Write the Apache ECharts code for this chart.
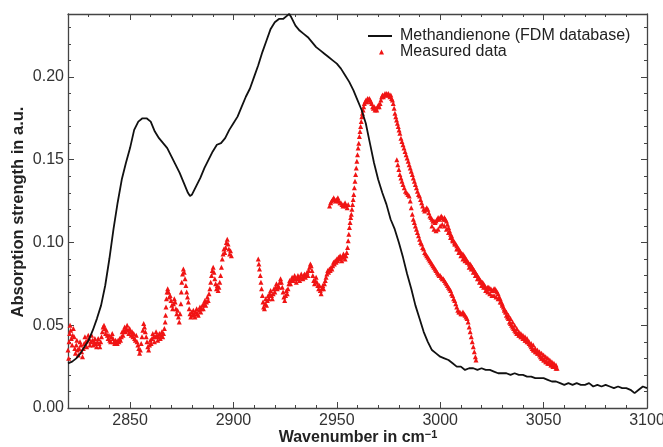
<!DOCTYPE html>
<html><head><meta charset="utf-8">
<script src="https://cdn.jsdelivr.net/npm/echarts@6/dist/echarts.min.js"></script>
<style>html,body{margin:0;padding:0;background:#fff}#c{width:663px;height:447px}</style>
</head><body><div id="c"></div>
<script>
// ---- tick values ----
const xMajorTicks = [2850, 2900, 2950, 3000, 3050, 3100];
const xMinorTicks = [2830, 2840, 2860, 2870, 2880, 2890, 2910, 2920, 2930, 2940, 2960, 2970, 2980, 2990, 3010, 3020, 3030, 3040, 3060, 3070, 3080, 3090];
const yMajorTicks = [0, 0.05, 0.10, 0.15, 0.20];
const yMinorTicks = [0.01, 0.02, 0.03, 0.04, 0.06, 0.07, 0.08, 0.09, 0.11, 0.12, 0.13, 0.14, 0.16, 0.17, 0.18, 0.19, 0.21, 0.22, 0.23];

// ---- Methandienone (FDM database) ----
const fdmX = [2820,2822,2824,2826,2828,2830,2832,2834,2836,2838,2840,2842,2844,2846,2848,2850,2852,2854,2856,2858,2860,2862,2864,2866,2868,2870,2872,2874,2876,2878,2879,2880,2882,2884,2886,2888,2890,2892,2894,2896,2898,2900,2902,2904,2906,2908,2910,2912,2914,2916,2918,2920,2922,2924,2926,2927,2928,2930,2932,2934,2936,2938,2940,2942,2944,2946,2948,2950,2952,2954,2956,2958,2960,2962,2964,2966,2968,2970,2972,2974,2976,2978,2980,2982,2984,2986,2988,2990,2992,2994,2996,2998,3000,3002,3004,3006,3008,3010,3012,3014,3016,3018,3020,3022,3024,3026,3028,3030,3032,3034,3036,3038,3040,3042,3044,3046,3048,3050,3052,3054,3056,3058,3060,3062,3064,3066,3068,3070,3072,3074,3076,3078,3080,3082,3084,3086,3088,3090,3092,3094,3096,3098,3100];
const fdmY = [0.027,0.028,0.030,0.033,0.037,0.041,0.047,0.054,0.062,0.074,0.090,0.108,0.124,0.138,0.148,0.157,0.168,0.173,0.175,0.175,0.173,0.167,0.163,0.160,0.157,0.152,0.147,0.142,0.136,0.130,0.128,0.129,0.134,0.139,0.145,0.150,0.155,0.159,0.160,0.163,0.168,0.172,0.176,0.182,0.188,0.193,0.200,0.207,0.215,0.222,0.229,0.233,0.235,0.235,0.237,0.238,0.236,0.231,0.228,0.226,0.224,0.221,0.218,0.216,0.214,0.212,0.210,0.208,0.205,0.201,0.197,0.192,0.186,0.180,0.172,0.160,0.148,0.138,0.130,0.123,0.114,0.108,0.100,0.091,0.081,0.072,0.062,0.054,0.046,0.040,0.035,0.033,0.031,0.030,0.029,0.027,0.025,0.025,0.023,0.024,0.024,0.023,0.024,0.023,0.023,0.022,0.021,0.021,0.021,0.020,0.021,0.020,0.020,0.019,0.019,0.018,0.018,0.018,0.017,0.016,0.016,0.015,0.014,0.015,0.014,0.015,0.014,0.014,0.015,0.013,0.014,0.013,0.014,0.013,0.012,0.013,0.012,0.012,0.011,0.009,0.011,0.013,0.012];

// ---- Measured data: [wavenumber, absorption] ----
const measured = [
[2820.0,0.035],[2820.3,0.030],[2820.5,0.040],[2820.8,0.045],[2821.0,0.050],[2821.3,0.047],[2821.6,0.042],[2822.0,0.038],[2822.3,0.044],[2822.6,0.048],[2823.0,0.043],[2823.3,0.036],[2823.6,0.033],[2824.0,0.038],[2824.3,0.041],[2824.6,0.035],[2825.0,0.032],[2825.4,0.036],[2825.8,0.040],[2826.2,0.038],[2826.6,0.034],[2827.0,0.031],[2827.4,0.036],[2827.8,0.039],[2828.2,0.043],[2828.6,0.040],[2829.0,0.037],[2829.4,0.041],[2829.8,0.044],[2830.2,0.042],[2830.6,0.038],[2831.0,0.040],[2831.4,0.044],[2831.8,0.041],[2832.2,0.038],[2832.6,0.040],[2833.0,0.042],[2833.4,0.039],[2833.8,0.037],[2834.2,0.040],[2834.6,0.042],[2835.0,0.039],[2835.4,0.037],[2835.8,0.040],[2836.2,0.043],[2836.6,0.046],[2837.0,0.049],[2837.4,0.050],[2837.8,0.048],[2838.2,0.045],[2838.6,0.047],[2839.0,0.044],[2839.4,0.042],[2839.8,0.044],[2840.2,0.041],[2840.6,0.040],[2841.0,0.043],[2841.4,0.045],[2841.8,0.042],[2842.2,0.040],[2842.6,0.039],[2843.0,0.041],[2843.4,0.040],[2843.8,0.039],[2844.2,0.041],[2844.6,0.040],[2845.0,0.042],[2845.4,0.041],[2845.8,0.043],[2846.2,0.046],[2846.6,0.044],[2847.0,0.047],[2847.4,0.049],[2847.8,0.046],[2848.2,0.048],[2848.6,0.050],[2849.0,0.047],[2849.4,0.045],[2849.8,0.048],[2850.2,0.046],[2850.6,0.044],[2851.0,0.046],[2851.4,0.043],[2851.8,0.045],[2852.2,0.042],[2852.6,0.041],[2853.0,0.044],[2853.4,0.040],[2853.8,0.038],[2854.2,0.036],[2854.6,0.033],[2855.0,0.035],[2855.4,0.039],[2855.8,0.043],[2856.2,0.047],[2856.6,0.051],[2857.0,0.049],[2857.4,0.046],[2857.8,0.043],[2858.2,0.040],[2858.6,0.037],[2859.0,0.035],[2859.4,0.038],[2859.8,0.041],[2860.2,0.039],[2860.6,0.042],[2861.0,0.045],[2861.4,0.043],[2861.8,0.040],[2862.2,0.043],[2862.6,0.046],[2863.0,0.044],[2863.4,0.041],[2863.8,0.043],[2864.2,0.045],[2864.6,0.042],[2865.0,0.044],[2865.4,0.046],[2865.8,0.043],[2866.2,0.045],[2866.6,0.048],[2867.0,0.052],[2867.2,0.056],[2867.4,0.061],[2867.6,0.066],[2867.9,0.070],[2868.2,0.072],[2868.6,0.070],[2869.0,0.067],[2869.4,0.068],[2869.8,0.065],[2870.2,0.062],[2870.6,0.060],[2871.0,0.063],[2871.4,0.066],[2871.8,0.064],[2872.2,0.060],[2872.6,0.057],[2873.0,0.059],[2873.4,0.055],[2873.8,0.052],[2874.2,0.057],[2874.6,0.063],[2874.8,0.070],[2875.0,0.076],[2875.4,0.081],[2875.8,0.084],[2876.2,0.082],[2876.6,0.078],[2877.0,0.074],[2877.4,0.070],[2877.8,0.067],[2878.2,0.064],[2878.6,0.060],[2879.0,0.057],[2879.4,0.055],[2879.8,0.058],[2880.2,0.056],[2880.6,0.059],[2881.0,0.057],[2881.4,0.055],[2881.8,0.058],[2882.2,0.060],[2882.6,0.057],[2883.0,0.056],[2883.4,0.059],[2883.8,0.061],[2884.2,0.058],[2884.6,0.060],[2885.0,0.062],[2885.4,0.060],[2885.8,0.063],[2886.2,0.065],[2886.6,0.062],[2887.0,0.064],[2887.4,0.067],[2887.8,0.065],[2888.2,0.069],[2888.6,0.072],[2889.0,0.076],[2889.4,0.080],[2889.8,0.083],[2890.2,0.085],[2890.6,0.082],[2891.0,0.078],[2891.4,0.075],[2891.8,0.072],[2892.2,0.074],[2892.6,0.071],[2893.0,0.073],[2893.4,0.076],[2893.8,0.080],[2894.2,0.085],[2894.6,0.090],[2895.0,0.093],[2895.4,0.096],[2895.8,0.094],[2896.2,0.097],[2896.6,0.100],[2897.0,0.102],[2897.4,0.099],[2897.8,0.096],[2898.2,0.093],[2898.6,0.095],[2899.0,0.092],
[2912.0,0.090],[2912.3,0.087],[2912.6,0.084],[2913.0,0.080],[2913.3,0.076],[2913.6,0.072],[2914.0,0.068],[2914.3,0.064],[2914.6,0.061],[2915.0,0.060],[2915.3,0.063],[2915.6,0.066],[2916.0,0.062],[2916.4,0.065],[2916.8,0.068],[2917.2,0.066],[2917.6,0.069],[2918.0,0.071],[2918.4,0.068],[2918.8,0.066],[2919.2,0.069],[2919.6,0.072],[2920.0,0.070],[2920.4,0.073],[2920.8,0.075],[2921.2,0.072],[2921.6,0.074],[2922.0,0.073],[2922.4,0.076],[2922.8,0.078],[2923.2,0.076],[2923.6,0.073],[2924.0,0.070],[2924.4,0.067],[2924.8,0.065],[2925.2,0.068],[2925.6,0.071],[2926.0,0.069],[2926.4,0.072],[2926.8,0.075],[2927.2,0.077],[2927.6,0.075],[2928.0,0.077],[2928.4,0.079],[2928.8,0.077],[2929.2,0.078],[2929.6,0.080],[2930.0,0.078],[2930.4,0.076],[2930.8,0.078],[2931.2,0.080],[2931.6,0.079],[2932.0,0.077],[2932.4,0.079],[2932.8,0.081],[2933.2,0.079],[2933.6,0.078],[2934.0,0.080],[2934.4,0.081],[2934.8,0.079],[2935.2,0.080],[2935.6,0.082],[2936.0,0.080],[2936.4,0.083],[2936.8,0.085],[2937.2,0.087],[2937.6,0.086],[2938.0,0.083],[2938.4,0.080],[2938.8,0.077],[2939.2,0.075],[2939.6,0.077],[2940.0,0.079],[2940.4,0.076],[2940.8,0.074],[2941.2,0.072],[2941.6,0.074],[2942.0,0.071],[2942.4,0.069],[2942.8,0.072],[2943.2,0.074],[2943.6,0.072],[2944.0,0.075],[2944.4,0.077],[2944.8,0.079],[2945.2,0.081],[2945.6,0.083],[2946.0,0.082],[2946.4,0.084],[2946.8,0.083],[2947.2,0.085],[2947.6,0.084],[2948.0,0.086],[2948.4,0.088],[2948.8,0.087],[2949.2,0.089],[2949.6,0.088],[2950.0,0.090],[2950.4,0.089],[2950.8,0.091],[2951.2,0.090],[2951.6,0.092],[2952.0,0.091],[2952.4,0.089],[2952.8,0.091],[2953.2,0.093],[2953.6,0.092],[2954.0,0.090],[2954.4,0.092],[2954.8,0.094],
[2946.5,0.122],[2947.0,0.124],[2947.5,0.125],[2948.0,0.126],[2948.5,0.127],[2949.0,0.126],[2949.5,0.125],[2950.0,0.126],[2950.5,0.127],[2951.0,0.125],[2951.5,0.124],[2952.0,0.124],[2952.5,0.123],[2953.0,0.122],[2953.5,0.123],[2954.0,0.124],[2954.5,0.122],[2955.0,0.121],[2955.5,0.123],
[2955.2,0.097],[2955.5,0.101],[2955.8,0.105],[2956.1,0.109],[2956.4,0.112],[2956.7,0.115],[2957.0,0.117],[2957.3,0.120],[2957.6,0.123],[2957.9,0.126],[2958.2,0.129],[2958.5,0.133],[2958.8,0.137],[2959.1,0.141],[2959.4,0.145],[2959.7,0.149],[2960.0,0.153],[2960.3,0.157],[2960.6,0.160],[2960.9,0.164],[2961.2,0.167],[2961.5,0.170],[2961.8,0.173],[2962.1,0.176],[2962.4,0.178],[2962.7,0.180],[2963.0,0.182],[2963.3,0.184],[2963.7,0.185],[2964.1,0.186],[2964.5,0.185],[2964.9,0.187],[2965.3,0.186],[2965.7,0.187],[2966.1,0.186],[2966.5,0.185],[2966.9,0.184],[2967.3,0.182],[2967.7,0.181],[2968.1,0.182],[2968.5,0.180],[2968.9,0.181],[2969.3,0.180],[2969.7,0.182],[2970.1,0.183],[2970.5,0.182],[2970.9,0.184],[2971.3,0.186],[2971.7,0.188],[2972.1,0.189],[2972.5,0.188],[2972.9,0.189],[2973.3,0.190],[2973.7,0.189],[2974.1,0.190],[2974.5,0.189],[2974.9,0.190],[2975.3,0.189],[2975.7,0.188],[2976.1,0.189],[2976.5,0.187],[2976.9,0.186],
[2977.3,0.184],[2977.7,0.181],[2978.1,0.178],[2978.5,0.176],[2978.9,0.174],[2979.3,0.172],[2979.7,0.170],[2980.1,0.168],[2980.5,0.166],[2981.0,0.163],[2981.5,0.161],[2982.0,0.159],[2982.5,0.157],[2983.0,0.155],[2983.5,0.153],[2984.0,0.151],[2984.5,0.149],[2985.0,0.147],[2985.5,0.145],[2986.0,0.143],[2986.5,0.141],[2987.0,0.139],[2987.5,0.137],[2988.0,0.135],[2988.5,0.133],[2989.0,0.131],[2989.5,0.129],[2990.0,0.128],[2990.5,0.126],[2991.0,0.124],[2991.5,0.122],[2992.0,0.120],[2992.5,0.119],[2993.0,0.120],[2993.5,0.121],[2994.0,0.120],[2994.5,0.118],[2995.0,0.116],[2995.5,0.115],[2996.0,0.114],[2996.5,0.113],[2997.0,0.113],[2997.5,0.112],[2998.0,0.113],[2998.5,0.114],[2999.0,0.115],[2999.5,0.114],[3000.0,0.115],[3000.5,0.116],[3001.0,0.115],[3001.5,0.114],[3002.0,0.115],[3002.5,0.114],[3003.0,0.113],[3003.5,0.111],[3004.0,0.109],[3004.5,0.107],[3005.0,0.105],[3005.5,0.104],[3006.0,0.102],[3006.5,0.101],[3007.0,0.100],[3007.5,0.099],[3008.0,0.098],[3008.5,0.097],[3009.0,0.096],[3009.5,0.095],[3010.0,0.094],[3010.5,0.093],[3011.0,0.093],[3011.5,0.092],[3012.0,0.091],[3012.5,0.090],[3013.0,0.089],[3013.5,0.088],[3014.0,0.087],[3014.5,0.087],[3015.0,0.086],[3015.5,0.085],[3016.0,0.084],[3016.5,0.083],[3017.0,0.082],[3017.5,0.081],[3018.0,0.080],[3018.5,0.079],[3019.0,0.078],[3019.5,0.077],[3020.0,0.076],[3020.5,0.076],[3021.0,0.075],[3021.5,0.074],[3022.0,0.073],[3022.5,0.072],[3023.0,0.073],[3023.5,0.073],[3024.0,0.072],[3024.5,0.072],[3025.0,0.071],[3025.5,0.071],[3026.0,0.072],[3026.5,0.072],[3027.0,0.071],[3027.5,0.070],[3028.0,0.069],[3028.5,0.067],[3029.0,0.066],[3029.5,0.064],[3030.0,0.063],[3030.5,0.061],[3031.0,0.059],[3031.5,0.058],[3032.0,0.056],[3032.5,0.055],[3033.0,0.054],[3033.5,0.052],[3034.0,0.051],[3034.5,0.050],[3035.0,0.049],[3035.5,0.048],[3036.0,0.047],[3036.5,0.046],[3037.0,0.045],[3037.5,0.045],[3038.0,0.044],[3038.5,0.044],[3039.0,0.043],[3039.5,0.043],[3040.0,0.042],[3040.5,0.042],[3041.0,0.041],[3041.5,0.041],[3042.0,0.040],[3042.5,0.040],[3043.0,0.039],[3043.5,0.038],[3044.0,0.037],[3044.5,0.036],[3045.0,0.035],[3045.5,0.035],[3046.0,0.034],[3046.5,0.034],[3047.0,0.033],[3047.5,0.033],[3048.0,0.032],[3048.5,0.031],[3049.0,0.030],[3049.5,0.030],[3050.0,0.029],[3050.5,0.029],[3051.0,0.028],[3051.5,0.028],[3052.0,0.027],[3052.5,0.027],[3053.0,0.027],[3053.5,0.026],[3054.0,0.026],[3054.5,0.025],[3055.0,0.025],[3055.5,0.025],[3056.0,0.024],[3056.5,0.024],
[2996,0.110],[2997,0.108],[2998,0.107],[2999,0.108],[3000,0.110],[3001,0.111],[3002,0.110],[3003,0.108],[3004,0.106],[3005,0.103],[3006,0.101],[3007,0.099],[3008,0.096],[3009,0.094],[3010,0.092],[3011,0.090],[3012,0.089],[3013,0.088],[3014,0.085],[3015,0.084],[3016,0.082],[3017,0.080],[3018,0.078],[3019,0.076],[3020,0.074],[3021,0.073],[3022,0.071],[3023,0.070],[3024,0.069],[3025,0.068],[3026,0.068],[3027,0.067],[3028,0.066],[3029,0.064],[3030,0.062],[3031,0.060],[3032,0.058],[3033,0.056],[3034,0.054],[3035,0.052],[3036,0.050],[3037,0.048],[3038,0.046],[3039,0.045],[3040,0.044],[3041,0.043],[3042,0.042],[3043,0.040],[3044,0.039],[3045,0.038],[3046,0.036],[3047,0.035],[3048,0.034],[3049,0.033],[3050,0.032],[3051,0.031],[3052,0.030],[3053,0.029],[3054,0.028],[3055,0.027],[3056,0.026],
[2979.0,0.150],[2979.5,0.147],[2980.0,0.144],[2980.5,0.141],[2981.0,0.139],[2981.5,0.137],[2982.0,0.135],[2982.6,0.133],[2983.2,0.131],[2983.8,0.130],[2984.4,0.129],[2985.0,0.128],[2985.5,0.125],[2986.0,0.121],[2986.5,0.117],[2987.0,0.114],[2987.5,0.112],[2988.0,0.110],[2988.5,0.108],[2989.0,0.106],[2989.5,0.104],[2990.0,0.102],[2990.5,0.100],[2991.0,0.099],[2991.5,0.097],[2992.0,0.096],[2992.5,0.094],[2993.0,0.093],[2993.5,0.092],[2994.0,0.091],[2994.5,0.090],[2995.0,0.089],[2995.5,0.088],[2996.0,0.087],[2996.5,0.086],[2997.0,0.085],[2997.5,0.084],[2998.0,0.083],[2998.5,0.082],[2999.0,0.081],[2999.5,0.080],[3000.0,0.080],[3000.5,0.079],[3001.0,0.078],[3001.5,0.078],[3002.0,0.077],[3002.5,0.076],[3003.0,0.075],[3003.5,0.074],[3004.0,0.073],[3004.5,0.072],[3005.0,0.071],[3005.5,0.069],[3006.0,0.068],[3006.5,0.066],[3007.0,0.065],[3007.5,0.063],[3008.0,0.061],[3008.5,0.059],[3009.0,0.058],[3009.5,0.058],[3010.0,0.057],[3010.5,0.057],[3011.0,0.058],[3011.5,0.057],[3012.0,0.056],[3012.5,0.055],[3013.0,0.054],[3013.5,0.052],[3014.0,0.049],[3014.5,0.046],[3015.0,0.043],[3015.5,0.040],[3016.0,0.037],[3016.5,0.034],[3017.0,0.031],[3017.3,0.029]
];

const FONT = '"Liberation Sans", Arial, sans-serif';
const AX = '#444';
const fdmData = fdmX.map((x, i) => [x, fdmY[i]]);

function xAx(pos, custom, len, withLabel, withLine) {
  return {
    type: 'value', position: pos, min: 2820, max: 3100,
    axisLine: { show: withLine, onZero: false, lineStyle: { color: AX, width: 1.3 } },
    axisTick: { show: true, inside: true, length: len, customValues: custom, lineStyle: { color: AX, width: 1 } },
    axisLabel: withLabel ? { show: true, customValues: xMajorTicks, formatter: v => String(v), color: '#333', fontSize: 16, fontFamily: FONT, margin: 5 } : { show: false },
    splitLine: { show: false }
  };
}
function yAx(pos, custom, len, withLabel, withLine) {
  return {
    type: 'value', position: pos, min: 0, max: 0.238,
    axisLine: { show: withLine, onZero: false, lineStyle: { color: AX, width: 1.3 } },
    axisTick: { show: true, inside: true, length: len, customValues: custom, lineStyle: { color: AX, width: 1 } },
    axisLabel: withLabel ? { show: true, customValues: yMajorTicks, formatter: v => v.toFixed(2), color: '#333', fontSize: 16, fontFamily: FONT, margin: 4 } : { show: false },
    splitLine: { show: false }
  };
}

const chart = echarts.init(document.getElementById('c'), null, { renderer: 'canvas' });
chart.setOption({
  animation: false,
  backgroundColor: '#fff',
  grid: { left: 68, right: 16, top: 14, bottom: 39, containLabel: false, outerBoundsMode: 'none' },
  graphic: [
    {
      type: 'text', x: 358, y: 438, silent: true,
      style: {
        text: 'Wavenumber in cm{sup|\u22121}', align: 'center', verticalAlign: 'middle',
        fontFamily: FONT, fontSize: 16, fontWeight: 'bold', fill: '#222',
        rich: { sup: { fontFamily: FONT, fontSize: 11, fontWeight: 'bold', fill: '#222', verticalAlign: 'top', padding: [0, 0, 6, 0] } }
      }
    },
    {
      type: 'text', x: 18, y: 212, rotation: Math.PI / 2, silent: true,
      style: {
        text: 'Absorption strength in a.u.', align: 'center', verticalAlign: 'middle',
        fontFamily: FONT, fontSize: 16.5, fontWeight: 'bold', fill: '#222'
      }
    }
  ],
  legend: [
    {
      orient: 'vertical', left: 368, top: 28, padding: 0, itemWidth: 24, itemHeight: 2,
      textStyle: { fontFamily: FONT, fontSize: 16, color: '#222', padding: [0, 0, 0, 3] },
      data: [{ name: 'Methandienone (FDM database)', icon: 'rect', itemStyle: { color: '#111' } }]
    },
    {
      orient: 'vertical', left: 379, top: 44, padding: 0, itemWidth: 5, itemHeight: 5,
      textStyle: { fontFamily: FONT, fontSize: 16, color: '#222', padding: [0, 0, 0, 11] },
      data: [{ name: 'Measured data', icon: 'triangle' }]
    }
  ],
  xAxis: [
    xAx('bottom', xMajorTicks, 6, true, true),
    xAx('bottom', xMinorTicks, 3, false, false),
    xAx('top', xMajorTicks, 6, false, true),
    xAx('top', xMinorTicks, 3, false, false)
  ],
  yAxis: [
    yAx('left', yMajorTicks, 6, true, true),
    yAx('left', yMinorTicks, 3, false, false),
    yAx('right', yMajorTicks, 6, false, true),
    yAx('right', yMinorTicks, 3, false, false)
  ],
  series: [
    {
      name: 'Methandienone (FDM database)', type: 'line', xAxisIndex: 0, yAxisIndex: 0,
      data: fdmData, symbol: 'none', smooth: false,
      lineStyle: { color: '#111', width: 1.8 }, itemStyle: { color: '#111' }
    },
    {
      name: 'Measured data', type: 'scatter', xAxisIndex: 0, yAxisIndex: 0,
      data: measured, symbol: 'triangle', symbolSize: 5,
      itemStyle: { color: '#f01414', opacity: 1 }
    }
  ]
});
</script></body></html>
